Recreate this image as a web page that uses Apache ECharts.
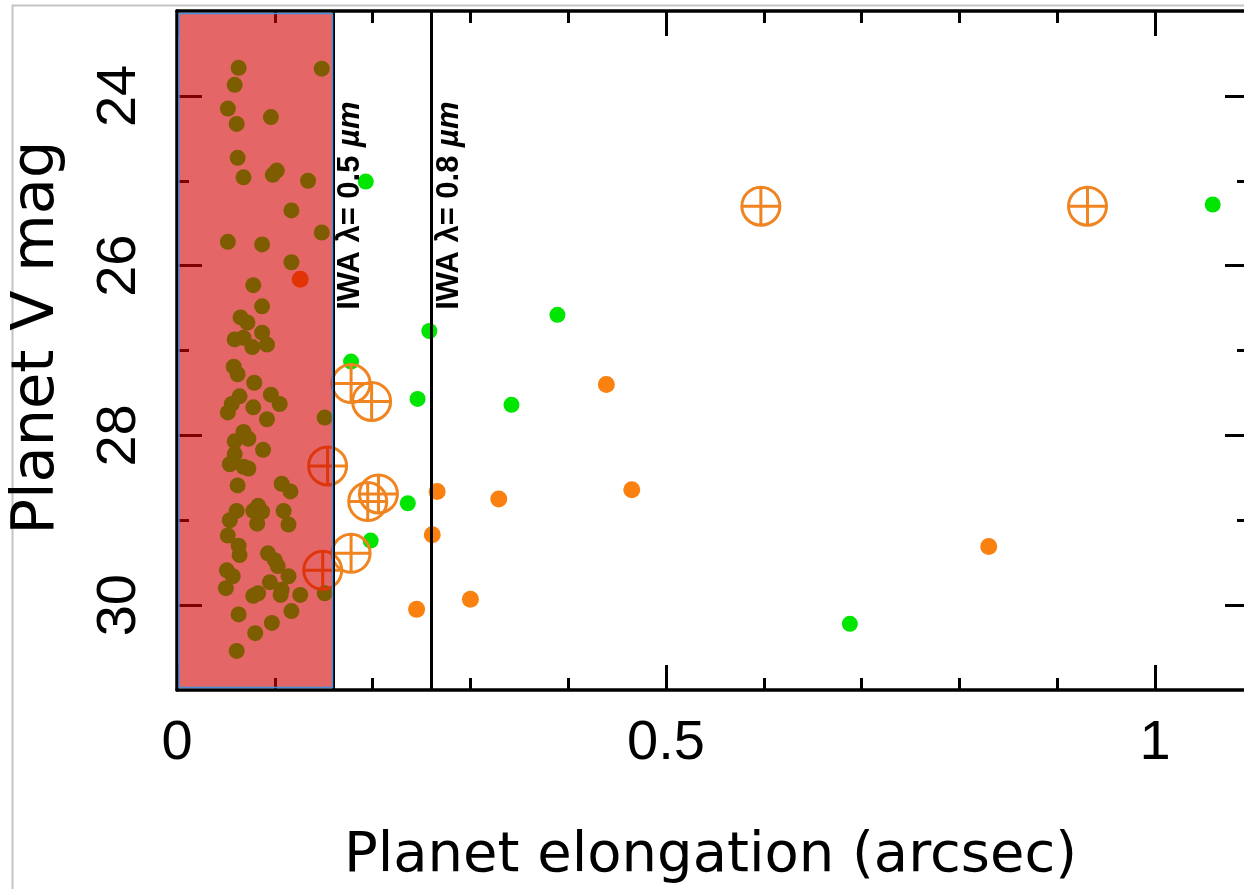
<!DOCTYPE html>
<html>
<head>
<meta charset="utf-8">
<script src="https://cdn.jsdelivr.net/npm/echarts@6/dist/echarts.min.js"></script>
<style>
html,body{margin:0;padding:0;background:#fff;}
#chart{width:1244px;height:889px;}
</style>
</head>
<body>
<div id="chart"></div>
<script>
// ---- data ----
const xMajorTicks = [0, 0.5, 1];
const xMinorTicks = [0.1, 0.2, 0.3, 0.4, 0.6, 0.7, 0.8, 0.9];
const yMajorTicks = [24, 26, 28, 30];
const yMinorTicks = [25, 27, 29];
const xRange = [0, 1.091];
const yRange = [23, 31];

// green planets (those inside the shaded zone appear olive through it)
const greenPts = [
  [0.063,23.67],[0.148,23.68],[0.059,23.87],[0.052,24.15],[0.061,24.33],[0.096,24.25],
  [0.062,24.73],[0.068,24.96],[0.098,24.93],[0.102,24.88],[0.134,25.00],[0.117,25.35],
  [0.148,25.61],[0.052,25.72],[0.087,25.75],[0.117,25.96],[0.078,26.23],[0.087,26.48],
  [0.065,26.61],[0.072,26.67],[0.087,26.79],[0.059,26.87],[0.068,26.85],[0.077,26.96],
  [0.092,26.93],[0.058,27.19],[0.062,27.28],[0.079,27.38],[0.064,27.54],[0.096,27.52],
  [0.105,27.63],[0.056,27.63],[0.052,27.73],[0.078,27.67],[0.092,27.81],[0.151,27.79],
  [0.068,27.96],[0.059,28.07],[0.073,28.04],[0.088,28.17],[0.059,28.22],[0.054,28.34],
  [0.068,28.37],[0.073,28.39],[0.062,28.59],[0.107,28.57],[0.116,28.66],[0.061,28.89],
  [0.054,29.00],[0.083,28.83],[0.078,28.89],[0.087,28.90],[0.082,29.04],[0.109,28.89],
  [0.114,29.05],[0.052,29.18],[0.063,29.30],[0.064,29.41],[0.093,29.39],[0.100,29.47],
  [0.103,29.54],[0.051,29.59],[0.057,29.66],[0.050,29.80],[0.114,29.66],[0.095,29.73],
  [0.107,29.82],[0.083,29.86],[0.078,29.89],[0.106,29.88],[0.126,29.88],[0.151,29.86],
  [0.063,30.11],[0.117,30.07],[0.097,30.21],[0.080,30.33],[0.061,30.54],
  [0.193,25.01],[1.059,25.28],[0.389,26.58],[0.258,26.77],[0.178,27.13],[0.246,27.57],
  [0.342,27.64],[0.236,28.80],[0.198,29.24],[0.688,30.22]
];
const orangePts = [
  [0.439,27.40],[0.266,28.66],[0.329,28.75],[0.465,28.64],[0.261,29.17],[0.830,29.31],
  [0.245,30.05],[0.300,29.93],[0.126,26.16]
];
const crossPts = [
  [0.597,25.30],[0.931,25.30],[0.178,27.39],[0.199,27.60],[0.154,28.36],
  [0.195,28.78],[0.206,28.69],[0.178,29.39],[0.149,29.59]
];
const iwaX = [0.157, 0.258];
const iwaLabelY = [26.52, 26.52];
const iwaText = ['IWA λ= 0.5 ', 'IWA λ= 0.8 '];
const shadeX = [0.002, 0.159];
const shadeY = [23.03, 30.97];

// ---- chart ----
const chart = echarts.init(document.getElementById('chart'), null, {renderer: 'canvas'});
const black = '#000';
const tickFont = {fontSize: 56, fontFamily: 'Liberation Sans', color: black};
const titleFont = {fontSize: 56, fontFamily: 'DejaVu Sans', color: black};

function xAx(pos, ticks, len, withLine, withLabel) {
  return {
    type: 'value', position: pos, min: xRange[0], max: xRange[1], gridIndex: 0,
    axisLine: {show: withLine, onZero: false, lineStyle: {color: black, width: 3.5}},
    axisTick: {show: true, inside: true, length: len, customValues: ticks, lineStyle: {color: black, width: 3}},
    axisLabel: withLabel ? Object.assign({show: true, customValues: ticks, margin: 26,
      formatter: v => String(v)}, tickFont) : {show: false},
    splitLine: {show: false},
    name: withLabel ? 'Planet elongation (arcsec)' : '',
    nameLocation: 'middle', nameGap: 138, nameTextStyle: titleFont
  };
}
function yAx(pos, ticks, len, withLine, withLabel) {
  return {
    type: 'value', position: pos, min: yRange[0], max: yRange[1], inverse: true, gridIndex: 0,
    axisLine: {show: withLine, onZero: false, lineStyle: {color: black, width: 3.5}},
    axisTick: {show: true, inside: true, length: len, customValues: ticks, lineStyle: {color: black, width: 3}},
    axisLabel: withLabel ? Object.assign({show: true, customValues: ticks, rotate: 90, margin: 29,
      formatter: v => String(v)}, tickFont) : {show: false},
    splitLine: {show: false},
    name: withLabel ? 'Planet V mag' : '',
    nameLocation: 'middle', nameGap: 110, nameRotate: 90,
    nameTextStyle: Object.assign({}, titleFont, {fontSize: 59, padding: [0, 0, 0, 26]})
  };
}

const crossSymbol = 'path://M50,2 A48,48 0 1,1 49.99,2 Z M2,50 L98,50 M50,2 L50,98';

chart.setOption({
  animation: false,
  backgroundColor: '#fff',
  grid: {left: 177, top: 11, right: 0, bottom: 198, containLabel: false},
  xAxis: [
    xAx('bottom', xMajorTicks, 25, true, true),
    xAx('bottom', xMinorTicks, 12, false, false),
    xAx('top', xMajorTicks, 25, true, false),
    xAx('top', xMinorTicks, 12, false, false)
  ],
  yAxis: [
    yAx('left', yMajorTicks, 25, true, true),
    yAx('left', yMinorTicks, 12, false, false),
    yAx('right', yMajorTicks, 19, false, false),
    yAx('right', yMinorTicks, 7, false, false)
  ],
  graphic: [{
    type: 'rect', left: 10, top: 3, z: -10, silent: true,
    shape: {width: 1400, height: 1000},
    style: {fill: 'none', stroke: '#c4c4c4', lineWidth: 2}
  }],
  series: [
    {
      type: 'scatter', name: 'green', z: 3,
      symbolSize: 16, data: greenPts,
      itemStyle: {color: '#00e600', opacity: 1},
      markLine: {
        silent: true, symbol: 'none', animation: false,
        label: {show: false},
        lineStyle: {color: black, width: 3, type: 'solid', opacity: 1},
        data: iwaX.map(v => ({xAxis: v}))
      }
    },
    {
      type: 'scatter', name: 'orange', z: 3,
      symbolSize: 17, data: orangePts,
      itemStyle: {color: '#fa8010', opacity: 1}
    },
    {
      type: 'scatter', name: 'cross', z: 4,
      symbol: crossSymbol, symbolSize: 38, data: crossPts,
      itemStyle: {color: 'none', borderColor: '#f08420', borderWidth: 3, opacity: 1}
    },
    {
      type: 'scatter', name: 'iwa', z: 5, symbolSize: 0,
      itemStyle: {opacity: 1, color: black},
      data: iwaX.map((v, i) => [v, iwaLabelY[i], iwaText[i]]),
      label: {
        show: true, position: [20, 0], rotate: 90, align: 'left', verticalAlign: 'middle',
        opacity: 1,
        formatter: p => '{b|' + p.value[2] + '}{i|µm}',
        rich: {
          b: {fontSize: 31, fontWeight: 'bold', fontFamily: 'Liberation Sans', color: black},
          i: {fontSize: 31, fontWeight: 'bold', fontStyle: 'italic', fontFamily: 'Liberation Sans', color: black}
        }
      }
    },
    {
      type: 'custom', name: 'shade', z: 10,
      data: [[shadeX[0], shadeY[0], shadeX[1], shadeY[1]]],
      renderItem: function (params, api) {
        const p1 = api.coord([api.value(0), api.value(1)]);
        const p2 = api.coord([api.value(2), api.value(3)]);
        return {
          type: 'rect',
          shape: {x: Math.min(p1[0], p2[0]), y: Math.min(p1[1], p2[1]),
                  width: Math.abs(p2[0] - p1[0]), height: Math.abs(p2[1] - p1[1])},
          style: {fill: 'rgba(210,0,0,0.6)', stroke: '#4a90d9', lineWidth: 1.5}
        };
      },
      silent: true
    }
  ]
});
</script>
</body>
</html>
